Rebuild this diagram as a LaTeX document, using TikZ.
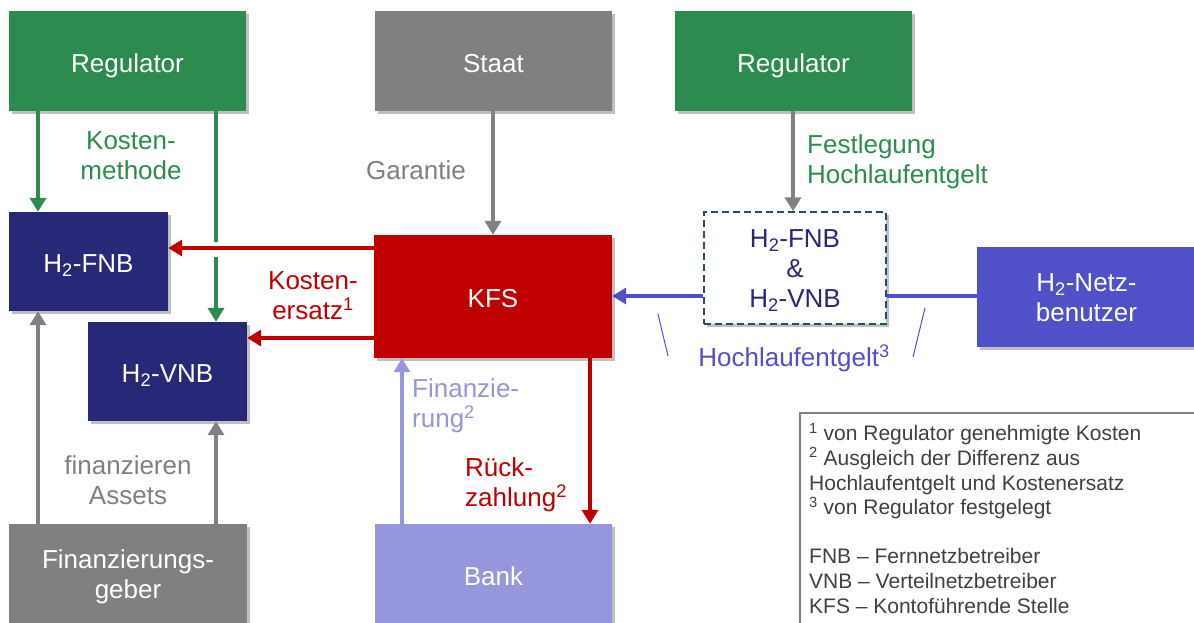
\documentclass[tikz,border=0pt]{standalone}
\usepackage{fontspec}
\setmainfont{Liberation Sans}
\usetikzlibrary{arrows.meta,shadows}
\definecolor{cgreen}{RGB}{46,139,80}
\definecolor{cgray}{RGB}{128,128,128}
\definecolor{cnavy}{RGB}{40,40,120}
\definecolor{cred}{RGB}{192,0,0}
\definecolor{cblue}{RGB}{80,80,200}
\definecolor{clav}{RGB}{150,150,220}
\definecolor{cteal}{RGB}{31,78,110}
\definecolor{ctext}{RGB}{64,64,64}
\begin{document}
\begin{tikzpicture}[x=1pt,y=-1pt,
  box/.style={rectangle, inner sep=0pt, text=white, align=center,
    font=\fontsize{26}{30}\selectfont,
    drop shadow={shadow xshift=3pt, shadow yshift=-3pt, opacity=0.25, fill=black}},
  oneline/.style={text height=28pt, text depth=5.4pt},
  twoline/.style={text height=55pt, text depth=6pt},
  threeline/.style={text height=84.6pt, text depth=6pt},
  lbl/.style={font=\fontsize{26}{30}\selectfont, inner sep=0pt},
  arr/.style={line width=4pt, -{Triangle[width=16pt,length=14pt]}},
]
\useasboundingbox (0,0) rectangle (1194,622);
\fill[white] (0,0) rectangle (1194,622);

% boxes
\node[box, oneline, fill=cgreen, minimum width=237pt, minimum height=100pt] (reg1) at (127.5,61) {Regulator};
\node[box, oneline, fill=cgray, minimum width=237pt, minimum height=100pt] (staat) at (493.5,61) {Staat};
\node[box, oneline, fill=cgreen, minimum width=237pt, minimum height=100pt] (reg2) at (793.5,61) {Regulator};
\node[box, oneline, fill=cnavy, minimum width=159pt, minimum height=99pt] (fnb) at (88.5,261.5) {H\textsubscript{2}-FNB};
\node[box, oneline, fill=cnavy, minimum width=159pt, minimum height=99pt] (vnb) at (167.5,371.5) {H\textsubscript{2}-VNB};
\node[box, oneline, fill=cred, minimum width=238pt, minimum height=123pt] (kfs) at (493,296.5) {KFS};
\node[box, threeline, fill=white, draw=cteal, line width=1.5pt, dash pattern=on 7pt off 4pt, text=cnavy, minimum width=182pt, minimum height=112pt] (both) at (795,268) {H\textsubscript{2}-FNB\\\&\\H\textsubscript{2}-VNB};
\node[box, twoline, fill=cblue, minimum width=219pt, minimum height=100pt] (netz) at (1086.5,296.5) {H\textsubscript{2}-Netz-\\benutzer};
\node[box, twoline, fill=cgray, minimum width=238pt, minimum height=100pt] (fin) at (128,574) {Finanzierungs-\\geber};
\node[box, oneline, fill=clav, minimum width=237pt, minimum height=100pt] (bank) at (493.5,574) {Bank};

% green arrows
\draw[arr, cgreen] (38,0 |- reg1.south) -- (38,0 |- fnb.north);
\draw[arr, cgreen] (216,0 |- reg1.south) -- (216,0 |- vnb.north);
\fill[white] (209,242) rectangle (223,257);
\node[lbl, text=cgreen, align=center] (lkm) at (131,156) {Kosten-\\methode};

% gray arrows from top
\draw[arr, cgray] (493,0 |- staat.south) -- (493,0 |- kfs.north);
\node[lbl, text=cgray] (lgar) at (416,170) {Garantie};
\draw[arr, cgray] (793,0 |- reg2.south) -- (793,0 |- both.north);
\node[lbl, text=cgreen, align=left, anchor=west] (lfest) at (807,162) {Festlegung\\Hochlaufentgelt};

% red arrows
\draw[arr, cred] (kfs.west |- 0,248) -- (fnb.east |- 0,248);
\draw[arr, cred] (kfs.west |- 0,338) -- (vnb.east |- 0,338);
\node[lbl, text=cred, align=center] (lke) at (313,296) {Kosten-\\ersatz\textsuperscript{1}};

% blue
\draw[line width=4pt, cblue] (netz.west |- 0,296) -- (both.east |- 0,296);
\draw[arr, cblue] (both.west |- 0,296) -- (kfs.east |- 0,296);
\node[lbl, text=cblue] (lhoch) at (794,358) {Hochlaufentgelt\textsuperscript{3}};
\coordinate (t1a) at (658,314); \coordinate (t1b) at (668,356);
\coordinate (t2a) at (925,308); \coordinate (t2b) at (913,357);
\draw[cblue, line width=1pt] (t1a) -- (t1b);
\draw[cblue, line width=1pt] (t2a) -- (t2b);

% bank arrows
\draw[arr, clav] (402,0 |- bank.north) -- (402,0 |- kfs.south);
\node[lbl, text=clav, align=left, anchor=west] (lfinz) at (412,406) {Finanzie-\\rung\textsuperscript{2}};
\draw[arr, cred] (590,0 |- kfs.south) -- (590,0 |- bank.north);
\node[lbl, text=cred, align=left, anchor=west] (lrz) at (465,485) {Rück-\\zahlung\textsuperscript{2}};

% finanzierungsgeber arrows
\draw[arr, cgray] (38,0 |- fin.north) -- (38,0 |- fnb.south);
\draw[arr, cgray] (216,0 |- fin.north) -- (216,0 |- vnb.south);
\node[lbl, text=cgray, align=center] (lfa) at (128,480) {finanzieren\\Assets};

% legend
\draw[cgray, line width=1.5pt] (1200,413) -- (800,413) -- (800,630);
\node[anchor=north west, inner sep=0pt, align=left, text=ctext,
  font=\fontsize{21}{24.6}\selectfont] (leg) at (809,423)
  {\textsuperscript{1} von Regulator genehmigte Kosten\\
   \textsuperscript{2} Ausgleich der Differenz aus\\
   Hochlaufentgelt und Kostenersatz\\
   \textsuperscript{3} von Regulator festgelegt\\[24.6pt]
   FNB – Fernnetzbetreiber\\
   VNB – Verteilnetzbetreiber\\
   KFS – Kontoführende Stelle};
\end{tikzpicture}
\end{document}
